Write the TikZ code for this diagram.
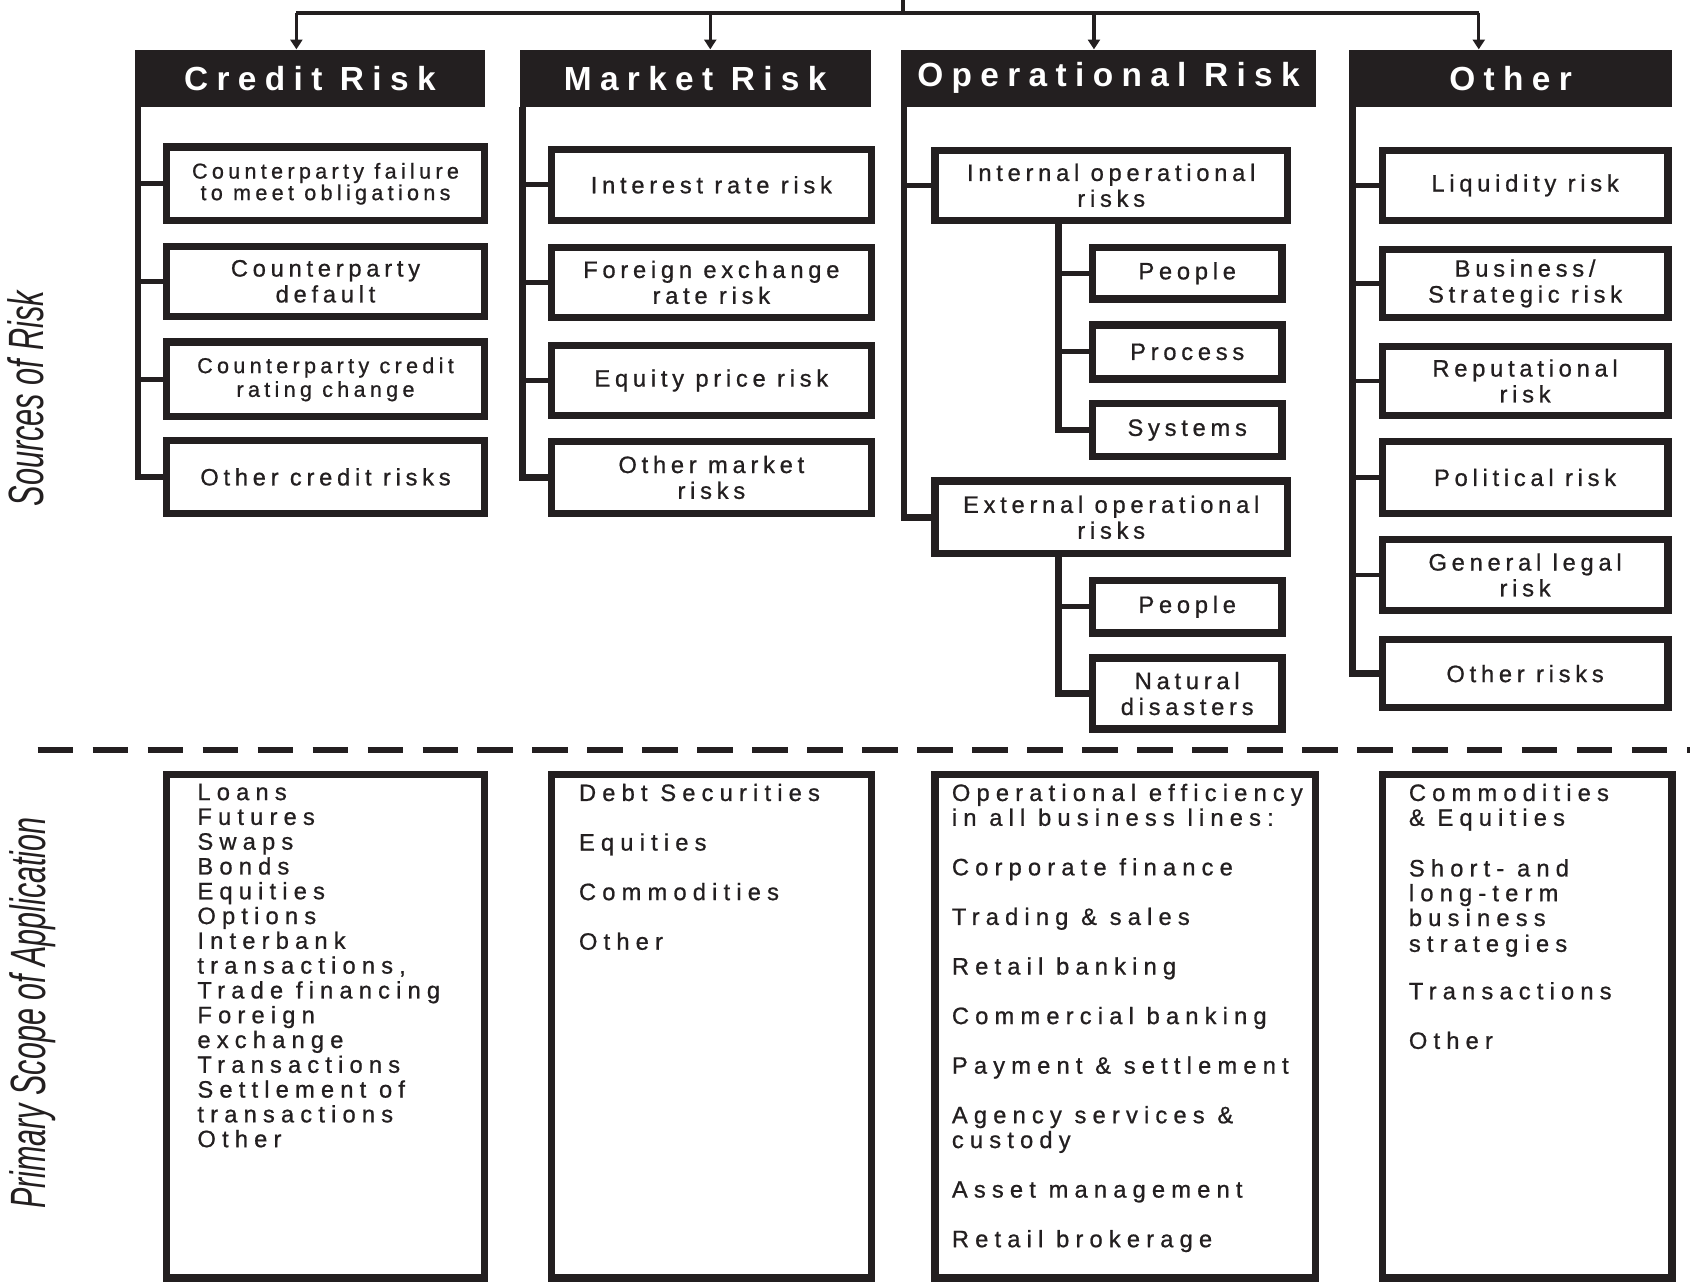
\documentclass[tikz,border=0pt]{standalone}
\usepackage{fontspec}
\setmainfont{Liberation Sans}
\newfontfamily\boxfont[LetterSpace=20,FakeBold=0.8]{Liberation Sans}
\newfontfamily\listfont[LetterSpace=26,FakeBold=0.8]{Liberation Sans}
\newfontfamily\headfont[LetterSpace=25]{Liberation Sans}
\newfontfamily\sidefont{Liberation Sans}
\usetikzlibrary{arrows.meta,calc}
\definecolor{ink}{RGB}{35,31,32}
\begin{document}
\begin{tikzpicture}[x=1pt,y=-1pt,
  head/.style={fill=ink, text=white, inner sep=0, minimum height=53,
    font=\headfont\bfseries\fontsize{31}{34}\selectfont},
  rbox/.style={draw=ink, line width=7, fill=white, inner sep=0, align=center,
    text=ink, font=\boxfont\fontsize{22}{24}\selectfont},
  pbox/.style={draw=ink, line width=7, fill=white, inner sep=0},
  plist/.style={anchor=north west, inner sep=0, align=left, text=ink,
    font=\listfont\fontsize{22}{23}\selectfont},
  spine/.style={draw=ink, line width=6},
  branch/.style={draw=ink, line width=4.5},
  bus/.style={draw=ink, line width=4},
  arr/.style={draw=ink, line width=3, -{Triangle[width=11pt,length=9pt]}},
  side/.style={rotate=90, anchor=base, inner sep=0, text=ink,
    font=\sidefont\itshape\fontsize{46}{50}\selectfont}
]
\useasboundingbox (0,0) rectangle (1568,1189);

% headers
\node[head, minimum width=325] (hC) at (287.5,72.5) {Credit Risk};
\node[head, minimum width=326] (hM) at (645,72.5) {Market Risk};
\node[head, minimum width=385] (hO) at (1028.5,72.5) {Operational Risk};
\node[head, minimum width=299] (hX) at (1401.5,72.5) {Other};

% top connectors
\coordinate (root) at (838,0);
\coordinate (bus) at (838,12);
\coordinate (bC) at (275,12);
\coordinate (bM) at (659,12);
\coordinate (bO) at (1015,12);
\coordinate (bX) at (1372,12);
\draw[bus] (root) -- (bus);
\draw[bus] (bC) -- (bX);
\draw[arr] (bC) -- (bC |- hC.north);
\draw[arr] (bM) -- (bM |- hM.north);
\draw[arr] (bO) -- (bO |- hO.north);
\draw[arr] (bX) -- (bX |- hX.north);

% credit column
\node[rbox, minimum width=295, minimum height=68, font=\boxfont\fontsize{20}{20}\selectfont] (c1) at (302,170.5) {Counterparty failure\\to meet obligations};
\node[rbox, minimum width=295, minimum height=65] (c2) at (302,261) {Counterparty\\default};
\node[rbox, minimum width=295, minimum height=69, font=\boxfont\fontsize{20}{22}\selectfont] (c3) at (302,352) {Counterparty credit\\rating change};
\node[rbox, minimum width=295, minimum height=68] (c4) at (302,442.5) {Other credit risks};
\coordinate (sC) at ($(hC.south west)+(3,0)$);
\foreach \n in {c1,c2,c3} \draw[branch] (\n.west -| sC) -- (\n.west);
\draw[spine] (sC) |- (c4.west);

% market column
\node[rbox, minimum width=297, minimum height=66] (m1) at (660,171.5) {Interest rate risk};
\node[rbox, minimum width=297, minimum height=65] (m2) at (660,262) {Foreign exchange\\rate risk};
\node[rbox, minimum width=297, minimum height=65] (m3) at (660,353) {Equity price risk};
\node[rbox, minimum width=297, minimum height=67] (m4) at (660,443) {Other market\\risks};
\coordinate (sM) at ($(hM.south west)+(3,0)$);
\foreach \n in {m1,m2,m3} \draw[branch] (\n.west -| sM) -- (\n.west);
\draw[spine] (sM) |- (m4.west);

% operational column
\node[rbox, minimum width=327, minimum height=65] (oi) at (1031,172) {Internal operational\\risks};
\node[rbox, minimum width=327, minimum height=67] (oe) at (1031,480) {External operational\\risks};
\node[rbox, minimum width=176, minimum height=48] (op1) at (1101.5,253.5) {People};
\node[rbox, minimum width=176, minimum height=50] (op2) at (1101.5,326.5) {Process};
\node[rbox, minimum width=176, minimum height=49] (op3) at (1101.5,399) {Systems};
\node[rbox, minimum width=176, minimum height=49] (oe1) at (1101.5,563) {People};
\node[rbox, minimum width=176, minimum height=66] (oe2) at (1101.5,643.5) {Natural\\disasters};
\coordinate (sO) at ($(hO.south west)+(3,0)$);
\draw[branch] (oi.west -| sO) -- (oi.west);
\draw[spine] (sO) |- (oe.west);
\coordinate (sI) at ($(oi.south west)+(118,0)$);
\foreach \n in {op1,op2} \draw[branch] (\n.west -| sI) -- (\n.west);
\draw[spine] (sI) |- (op3.west);
\coordinate (sE) at ($(oe.south west)+(118,0)$);
\draw[branch] (oe1.west -| sE) -- (oe1.west);
\draw[spine] (sE) |- (oe2.west);

% other column
\node[rbox, minimum width=265, minimum height=65] (x1) at (1415,172) {Liquidity risk};
\node[rbox, minimum width=265, minimum height=63] (x2) at (1415,263) {Business/\\Strategic risk};
\node[rbox, minimum width=265, minimum height=64] (x3) at (1415,353.5) {Reputational\\risk};
\node[rbox, minimum width=265, minimum height=67] (x4) at (1415,443) {Political risk};
\node[rbox, minimum width=265, minimum height=66] (x5) at (1415,533.5) {General legal\\risk};
\node[rbox, minimum width=265, minimum height=63] (x6) at (1415,625) {Other risks};
\coordinate (sX) at ($(hX.south west)+(3,0)$);
\foreach \n in {x1,x2,x3,x4,x5} \draw[branch] (\n.west -| sX) -- (\n.west);
\draw[spine] (sX) |- (x6.west);

% divider
\coordinate (dL) at (35,696);
\coordinate (dR) at (1568,696);
\draw[draw=ink, line width=5, dash pattern=on 33pt off 18pt] (dL) -- (dR);

% bottom boxes
\node[pbox, minimum width=295, minimum height=467] (pC) at (302,952) {};
\node[pbox, minimum width=297, minimum height=467] (pM) at (660,952) {};
\node[pbox, minimum width=353, minimum height=467] (pO) at (1044,952) {};
\node[pbox, minimum width=269, minimum height=467] (pX) at (1417,952) {};

\node[plist] (lC) at (183,727) {Loans\\Futures\\Swaps\\Bonds\\Equities\\Options\\Interbank\\transactions,\\Trade financing\\Foreign\\exchange\\Transactions\\Settlement of\\transactions\\Other};
\node[plist] (lM) at (537,727) {Debt Securities\\[23pt]Equities\\[23pt]Commodities\\[23pt]Other};
\node[plist] (lO) at (883,727) {Operational efficiency\\in all business lines:\\[23pt]Corporate finance\\[23pt]Trading \& sales\\[23pt]Retail banking\\[23pt]Commercial banking\\[23pt]Payment \& settlement\\[23pt]Agency services \&\\custody\\[23pt]Asset management\\[23pt]Retail brokerage};
\node[plist] (lX) at (1307,727) {Commodities\\\& Equities\\[24pt]Short- and\\long-term\\business\\[1pt]strategies\\[21pt]Transactions\\[23pt]Other};

% side labels
\node[side] (sl1) at (40,370) {\scalebox{0.62}[1]{Sources of Risk}};
\node[side] (sl2) at (42,940) {\scalebox{0.615}[1]{Primary Scope of Application}};
\end{tikzpicture}
\end{document}
